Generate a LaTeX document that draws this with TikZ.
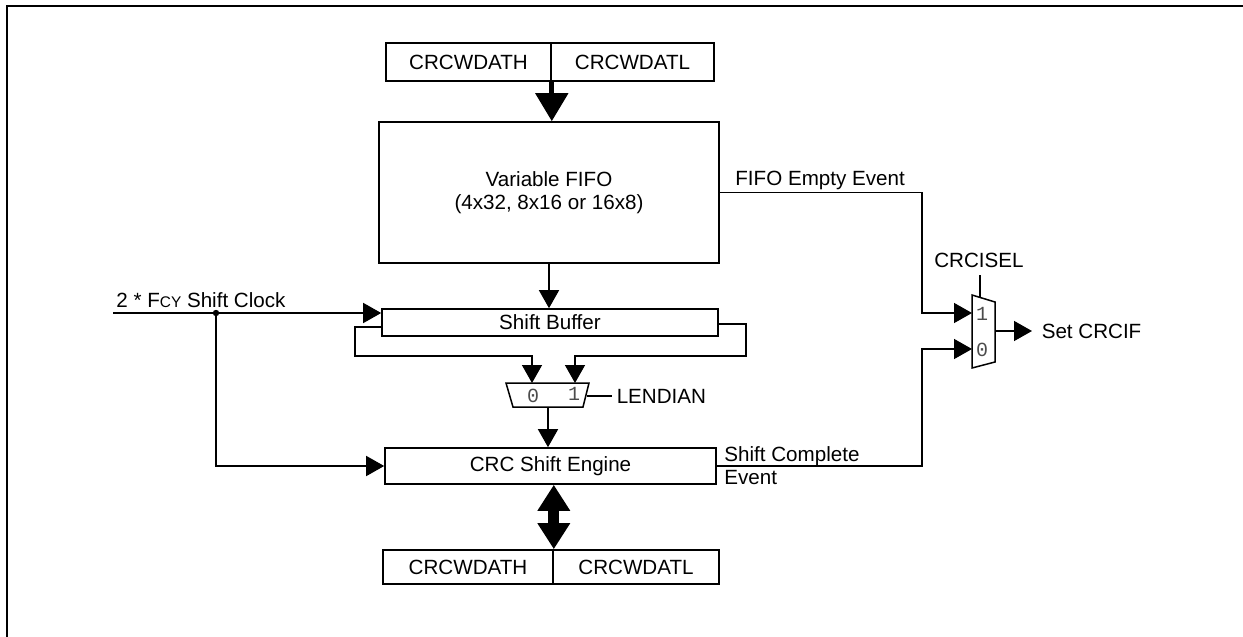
\documentclass[tikz,border=0pt]{standalone}
\usepackage{fontspec}
\setmainfont{Liberation Sans}
\newfontfamily\monofont{Liberation Mono}
\usetikzlibrary{arrows.meta}

\begin{document}
\begin{tikzpicture}[x=0.5pt, y=-0.5pt, >={Triangle[width=10pt,length=9pt]},
    box/.style={draw, line width=0.8pt, inner sep=0pt, font=\fontsize{10.3}{11.5}\selectfont},
    sig/.style={line width=0.75pt},
    bigarrow/.style={line width=2.5pt, -{Triangle[width=16pt,length=14pt]}},
    dblarrow/.style={line width=5.5pt, {Triangle[width=15.5pt,length=13pt]}-{Triangle[width=15.5pt,length=13pt]}},
    lbl/.style={inner sep=0pt, font=\fontsize{10.3}{11.5}\selectfont},
    bit/.style={inner sep=0pt, text=black!70, font=\monofont\fontsize{10}{12}\selectfont}]

            \useasboundingbox (0,0) rectangle (1243,637);

            % Rahmen
            \draw[line width=1.3pt] (7,637) -- (7,6) -- (1243,6);

            % Register oben
            \node[box, minimum width=82.5pt, minimum height=19pt] (wdathA) at (468.5,62) {CRCWDATH};
            \node[box, minimum width=81.5pt, minimum height=19pt] (wdatlA) at (632.5,62) {CRCWDATL};

            % FIFO
            \node[box, minimum width=170pt, minimum height=70.5pt, align=center] (fifo) at (549,192.5)
            {Variable FIFO\\(4x32, 8x16 or 16x8)};
            \draw[bigarrow] (wdathA.south east) -- (wdathA.south east |- fifo.north);

            % Shift Buffer
            \node[box, minimum width=168pt, minimum height=13.5pt] (sbuf) at (550,322.5) {Shift Buffer};
            \draw[sig,->] (fifo.south) -- (fifo.south |- sbuf.north);

            % CRC Shift Engine
            \node[box, minimum width=165.5pt, minimum height=18pt] (crc) at (550.5,466) {CRC Shift Engine};

            % Takt
            \coordinate (clkin) at (113,313);
            \coordinate (clkdot) at (216,313);
            \node[lbl, anchor=base west] (clklbl) at (116,307)
            {2 * F{\fontsize{7.7}{9}\selectfont CY} Shift Clock};
            \draw[sig,->] (clkin) -- (clkin -| sbuf.west);
            \draw[sig,->] (clkdot) -- (clkdot |- crc.west) -- (crc.west);
            \fill (clkdot) circle (1.6pt);

            % Rueckfuehrung zum LENDIAN-Mux
            \coordinate (muxin0) at (532,383);
            \coordinate (muxin1) at (575,383);
            \draw[sig,->] ([yshift=-2.25pt]sbuf.west) -| (355,356) -| (muxin0);
            \draw[sig,->] ([yshift=-0.75pt]sbuf.east) -| (746,356) -| (muxin1);

            % LENDIAN-Mux
            \draw[line width=0.75pt] (506,383) -- (589,383) -- (583,407) -- (513,407) -- cycle;
            \node[bit] (lbit0) at (533,396) {0};
            \node[bit] (lbit1) at (574,394) {1};
            \coordinate (lsel) at (587,396);
            \draw[sig] (lsel) -- (612,396) node[lbl, right=2pt] (lendian) {LENDIAN};
            \coordinate (lmuxout) at (548,407);
            \draw[sig,->] (lmuxout) -- (lmuxout |- crc.north);

            % Register unten
            \node[box, minimum width=85pt, minimum height=17pt] (wdathB) at (468,567) {CRCWDATH};
            \node[box, minimum width=83pt, minimum height=17pt] (wdatlB) at (636,567) {CRCWDATL};
            \draw[dblarrow] (wdathB.north east) -- (wdathB.north east |- crc.south);

            % CRCISEL-Mux
            \draw[line width=0.75pt] (972,295) -- (995,302) -- (995,362) -- (972,368) -- cycle;
            \coordinate (cin1) at (972,313);
            \coordinate (cin0) at (972,349);
            \coordinate (cout) at (995,331);
            \coordinate (csel) at (980,297);
            \node[bit] (cbit1) at (982,314) {1};
            \node[bit] (cbit0) at (982,350) {0};
            \draw[sig] (csel) -- (980,275);
            \node[lbl, anchor=base] (crcisel) at (979,267) {CRCISEL};
            \draw[sig,->] (cout) -- (1032,331) node[lbl, right=4.5pt] (setcrcif) {Set CRCIF};

            % Ereignisse
            \node[lbl, anchor=base west] (fifoevt) at (735,185) {FIFO Empty Event};
            \draw[sig,->] (fifo.east) -| (922,313) -- (cin1);
            \node[lbl, anchor=base west] (shiftevtA) at (724,461) {Shift Complete};
            \node[lbl, anchor=base west] (shiftevtB) at (724,484) {Event};
            \draw[sig,->] (crc.east) -| (922,349) -- (cin0);

\end{tikzpicture}
\end{document}
